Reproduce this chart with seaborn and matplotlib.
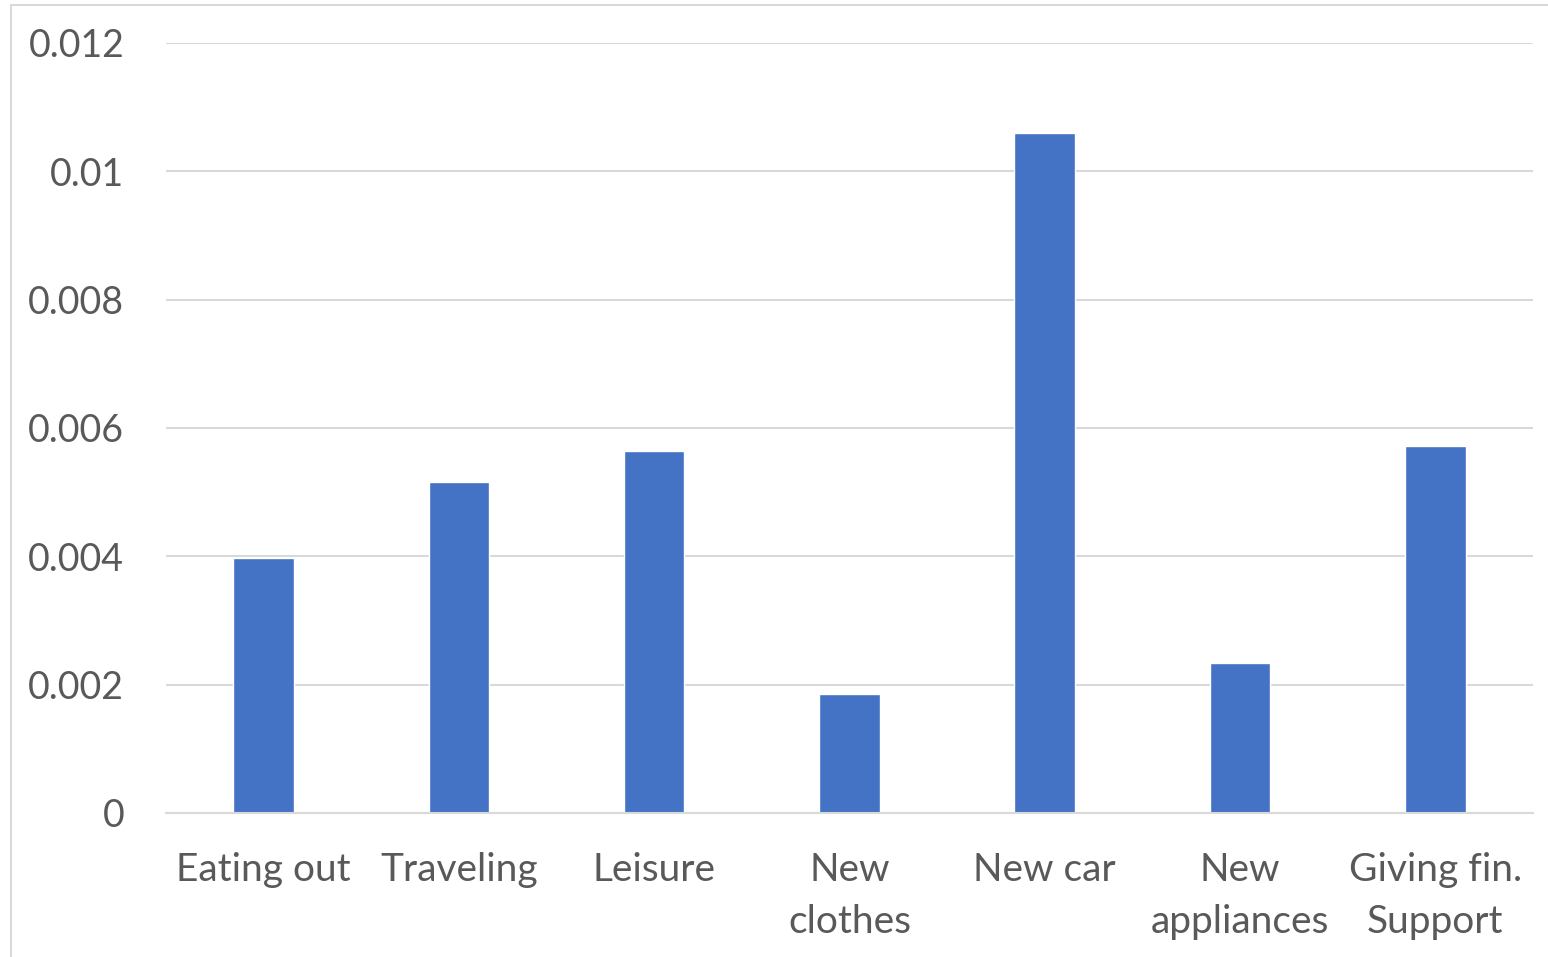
import matplotlib
matplotlib.use('Agg')
import matplotlib.pyplot as plt
import seaborn as sns
import pandas as pd
from matplotlib.patches import Rectangle

# datos
categorias = ['Eating out', 'Traveling', 'Leisure', 'New\nclothes', 'New car',
              'New\nappliances', 'Giving fin.\nSupport']
valores = [0.00397, 0.00516, 0.00564, 0.00185, 0.0106, 0.00234, 0.00572]
yticks = [0, 0.002, 0.004, 0.006, 0.008, 0.01, 0.012]
ytick_labels = ['0', '0.002', '0.004', '0.006', '0.008', '0.01', '0.012']

AZUL = '#4472C4'; GRIS_TXT = '#595959'; GRIS_LIN = '#D9D9D9'

sns.set_style('white')
plt.rcParams['font.family'] = ['Lato', 'DejaVu Sans']

df = pd.DataFrame({'cat': categorias, 'val': valores})

fig = plt.figure(figsize=(15.48, 9.57), dpi=100)
ax = fig.add_axes([0.1072, 0.1505, 0.8831, 0.8046])
sns.barplot(data=df, x='cat', y='val', color=AZUL, width=0.31, saturation=1, ax=ax)

ax.set_ylim(0, 0.012)
ax.set_yticks(yticks)
ax.set_yticklabels(ytick_labels)
ax.set_xlim(-0.5, len(categorias) - 0.5)
ax.grid(axis='y', color=GRIS_LIN, linewidth=1.5)
ax.set_axisbelow(True)
for sp in ['top', 'right', 'left']:
    ax.spines[sp].set_visible(False)
ax.spines['bottom'].set_color(GRIS_LIN)
ax.spines['bottom'].set_linewidth(1.5)
ax.set_xlabel(''); ax.set_ylabel('')
ax.tick_params(axis='y', length=0, pad=30, labelsize=27, labelcolor=GRIS_TXT)
ax.tick_params(axis='x', length=0, pad=28, labelsize=28, labelcolor=GRIS_TXT)
for t in ax.get_xticklabels():
    t.set_va('top'); t.set_ha('center'); t.set_linespacing(1.55)

# borde del área del gráfico
fig.patches.append(Rectangle((11 / 1548, -0.01), 1.0, 1 - 5 / 957 + 0.01,
                             transform=fig.transFigure, fill=False,
                             edgecolor=GRIS_LIN, linewidth=1.5))

fig.savefig('out.png', dpi=100)
